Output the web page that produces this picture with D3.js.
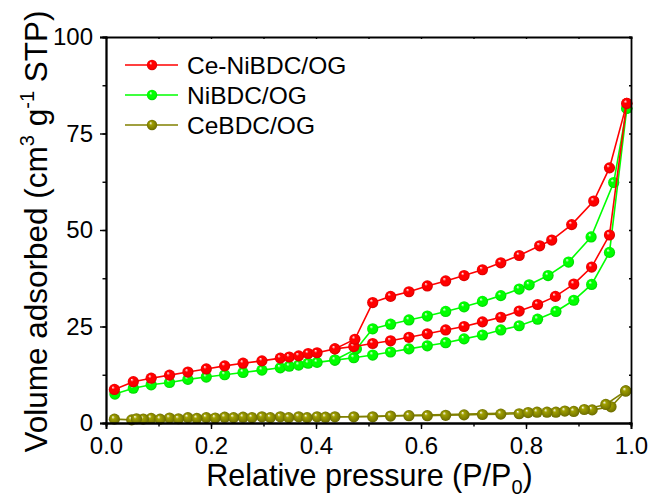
<!DOCTYPE html>
<html>
<head>
<meta charset="utf-8" />
<title>Isotherms</title>
<script src="https://cdn.jsdelivr.net/npm/d3@7/dist/d3.min.js"></script>
<style>
    body { margin: 0; background: #fff; }
    text { font-family: Arial, "Liberation Sans", sans-serif; fill: #000; }
</style>
</head>
<body>
<div id="chart"></div>
<script>
// ---- data (P/P0, cm3/g) ----
var ceNiAdsX = [0.016,0.052,0.086,0.121,0.156,0.191,0.226,0.261,0.297,0.332,0.349,0.367,0.385,0.402,0.436,0.472,0.508,0.542,0.577,0.612,0.647,0.682,0.717,0.752,0.787,0.822,0.856,0.891,0.925,0.959,0.992];
var ceNiAdsY = [8.7,10.7,11.6,12.4,13.2,14.0,14.8,15.5,16.1,16.8,17.1,17.4,18.0,18.2,19.2,19.8,20.6,21.3,22.2,23.1,24.1,25.0,26.2,27.4,29.0,30.7,32.8,36.0,40.4,48.7,82.8];
var ceNiDesX = [0.992,0.959,0.929,0.887,0.849,0.826,0.787,0.752,0.717,0.682,0.647,0.612,0.577,0.542,0.508,0.474,0.436];
var ceNiDesY = [82.8,66.1,57.5,51.4,47.4,45.9,43.4,41.5,39.7,38.2,36.8,35.5,34.0,32.8,31.2,21.7,19.2];

var niAdsX = [0.017,0.052,0.086,0.121,0.156,0.191,0.226,0.261,0.297,0.332,0.349,0.367,0.385,0.402,0.436,0.472,0.508,0.542,0.577,0.612,0.647,0.682,0.717,0.752,0.787,0.822,0.857,0.891,0.925,0.959,0.992];
var niAdsY = [7.5,9.0,9.9,10.5,11.3,11.9,12.5,13.1,13.7,14.3,14.7,15.0,15.5,15.7,16.3,16.9,17.6,18.4,19.2,20.0,20.8,21.8,22.8,24.1,25.2,26.9,28.9,31.8,35.9,44.2,81.5];
var niDesX = [0.992,0.967,0.924,0.881,0.842,0.806,0.787,0.752,0.717,0.682,0.647,0.612,0.577,0.542,0.508,0.477,0.436];
var niDesY = [81.5,62.3,48.2,41.7,38.2,35.8,34.7,33.0,31.5,30.1,28.9,27.7,26.7,25.6,24.4,19.2,16.3];

var ceAdsX = [0.016,0.049,0.086,0.121,0.156,0.191,0.226,0.261,0.297,0.332,0.367,0.402,0.436,0.472,0.508,0.542,0.577,0.612,0.647,0.682,0.717,0.752,0.787,0.821,0.857,0.891,0.926,0.962,0.990];
var ceAdsY = [1.0,0.8,1.2,1.3,1.4,1.4,1.5,1.5,1.6,1.6,1.6,1.6,1.6,1.6,1.6,1.8,1.9,1.9,2.0,2.1,2.2,2.3,2.4,2.8,2.8,3.0,3.4,4.2,8.3];
var ceDesX = [0.990,0.952,0.911,0.874,0.840,0.804,0.418,0.383,0.348,0.313,0.278,0.243,0.208,0.173,0.138,0.103,0.071,0.058];
var ceDesY = [8.3,4.8,3.5,3.1,2.8,2.7,1.5,1.4,1.4,1.4,1.4,1.4,1.3,1.2,1.1,1.0,1.0,1.1];

var seriesNames = ["Ce-NiBDC/OG", "NiBDC/OG", "CeBDC/OG"];
var seriesColors = ["#ff0000", "#00ff00", "#808000"];
var xTicks = [0, 0.2, 0.4, 0.6, 0.8, 1.0];
var yTicks = [0, 25, 50, 75, 100];

var W = 654, H = 497;
var margin = {left: 106, right: 23, top: 37, bottom: 74};

var svg = d3.select("#chart").append("svg").attr("width", W).attr("height", H);

var x = d3.scaleLinear().domain([0, 1]).range([margin.left, W - margin.right]);
var y = d3.scaleLinear().domain([0, 100]).range([H - margin.bottom, margin.top]);

// sphere-like marker gradients
var defs = svg.append("defs");
seriesColors.forEach(function (c, i) {
    var g = defs.append("radialGradient").attr("id", "ball" + i)
        .attr("cx", "50%").attr("cy", "50%").attr("r", "55%")
        .attr("fx", "35%").attr("fy", "30%");
    g.append("stop").attr("offset", "0%").attr("stop-color", "#ffffff");
    g.append("stop").attr("offset", "28%").attr("stop-color", d3.color(c).brighter(0.6));
    g.append("stop").attr("offset", "70%").attr("stop-color", c);
    g.append("stop").attr("offset", "100%").attr("stop-color", d3.color(c).darker(0.7));
});

var clip = defs.append("clipPath").attr("id", "plotclip");
clip.append("rect").attr("x", margin.left - 8).attr("y", margin.top - 8)
    .attr("width", x(1) - margin.left + 16).attr("height", y(0) - margin.top + 16);

function pts(xs, ys) { return xs.map(function (v, i) { return [v, ys[i]]; }); }

var series = [
    [pts(ceNiAdsX, ceNiAdsY), pts(ceNiDesX, ceNiDesY)],
    [pts(niAdsX, niAdsY), pts(niDesX, niDesY)],
    [pts(ceAdsX, ceAdsY), pts(ceDesX, ceDesY)]
];

var line = d3.line().x(function (d) { return x(d[0]); }).y(function (d) { return y(d[1]); });

var plot = svg.append("g").attr("clip-path", "url(#plotclip)");

// olive first, then green, red on top
[2, 1, 0].forEach(function (si) {
    var g = plot.append("g");
    series[si].forEach(function (branch) {
        g.append("path").datum(branch).attr("d", line)
            .attr("fill", "none").attr("stroke", seriesColors[si]).attr("stroke-width", 1.6);
    });
    series[si].forEach(function (branch) {
        g.selectAll(null).data(branch).enter().append("circle")
            .attr("cx", function (d) { return x(d[0]); })
            .attr("cy", function (d) { return y(d[1]); })
            .attr("r", 5.6)
            .attr("fill", "url(#ball" + si + ")");
    });
});

// axes
var xMinor = d3.range(0, 1.0001, 0.1);
var yMinor = d3.range(0, 100.001, 12.5);

svg.append("g").attr("transform", "translate(0," + y(0) + ")")
    .call(d3.axisBottom(x).tickValues(xTicks).tickFormat(d3.format(".1f")).tickSize(6).tickPadding(8));
svg.append("g").attr("transform", "translate(0," + y(0) + ")")
    .call(d3.axisBottom(x).tickValues(xMinor).tickFormat("").tickSize(3.5));

svg.append("g").attr("transform", "translate(" + x(0) + ",0)")
    .call(d3.axisLeft(y).tickValues(yTicks).tickSize(6).tickPadding(7));
svg.append("g").attr("transform", "translate(" + x(0) + ",0)")
    .call(d3.axisLeft(y).tickValues(yMinor).tickFormat("").tickSize(3.5));

// top and right mirror axes with tiny inward ticks
svg.append("g").attr("transform", "translate(0," + y(100) + ")")
    .call(d3.axisBottom(x).tickValues(xMinor).tickFormat("").tickSize(2));
svg.append("g").attr("transform", "translate(" + x(1) + ",0)")
    .call(d3.axisLeft(y).tickValues(yMinor).tickFormat("").tickSize(2));

svg.selectAll(".domain").attr("stroke", "#000").attr("stroke-width", 1.8);
svg.selectAll(".tick line").attr("stroke", "#000").attr("stroke-width", 1.4);
svg.selectAll(".tick text").style("font-size", "24px").attr("fill", "#000");

// axis titles
var xt = svg.append("text").attr("x", (x(0) + x(1)) / 2 + 1).attr("y", 486)
    .attr("text-anchor", "middle").style("font-size", "30.5px");
xt.append("tspan").text("Relative pressure (P/P");
xt.append("tspan").attr("dy", 8).style("font-size", "20px").text("0");
xt.append("tspan").attr("dy", -8).text(")");

var yt = svg.append("text").attr("transform", "translate(47,231.5) rotate(-90)")
    .attr("text-anchor", "middle").style("font-size", "31.5px");
yt.append("tspan").text("Volume adsorbed (cm");
yt.append("tspan").attr("dy", -13).style("font-size", "20px").text("3");
yt.append("tspan").attr("dy", 13).text(" g");
yt.append("tspan").attr("dy", -13).style("font-size", "20px").text("-1");
yt.append("tspan").attr("dy", 13).text(" STP)");

// legend
var legend = svg.append("g");
seriesNames.forEach(function (name, i) {
    var ly = 65 + i * 30;
    legend.append("line").attr("x1", 125).attr("x2", 178).attr("y1", ly).attr("y2", ly)
        .attr("stroke", seriesColors[i]).attr("stroke-width", 1.6);
    legend.append("circle").attr("cx", 152).attr("cy", ly).attr("r", 5.2)
        .attr("fill", "url(#ball" + i + ")");
    legend.append("text").attr("x", 187).attr("y", ly + 8.8)
        .style("font-size", "24.5px").text(name);
});
</script>
</body>
</html>
